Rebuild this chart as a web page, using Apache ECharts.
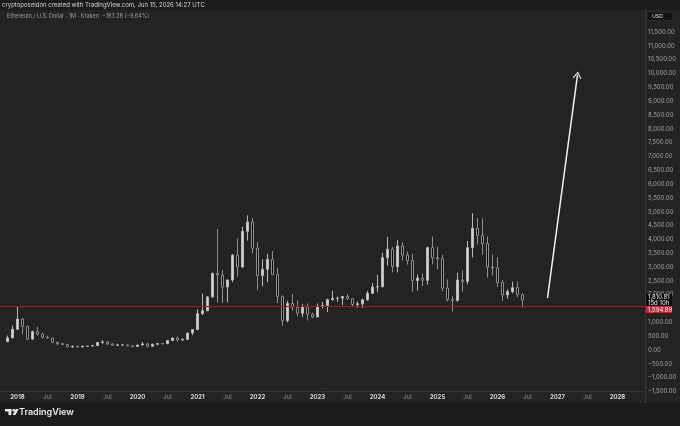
<!DOCTYPE html>
<html><head><meta charset="utf-8">
<script src="https://cdn.jsdelivr.net/npm/echarts@6/dist/echarts.min.js"></script>
<style>html,body{margin:0;padding:0;background:#1b1b1b;}#c{width:680px;height:426px;}</style>
</head><body><div id="c"></div>
<script>
// Monthly candles, each item [open, close, low, high]
const ohlc2017 = [[300,440,290,520],[440,750,420,880]]; // Nov, Dec
const ohlc2018 = [[750,1118,740,1560],[1118,855,570,1160],[855,395,370,880],[395,670,360,700],[670,577,520,840],[577,455,410,620],[455,434,420,515],[434,283,250,440],[283,232,167,300],[232,197,190,232],[197,113,100,222],[113,133,82,160]];
const ohlc2019 = [[133,107,100,160],[107,136,102,165],[136,141,126,145],[141,162,140,184],[162,268,159,285],[268,290,229,365],[290,218,190,317],[218,172,163,239],[172,180,153,224],[180,183,154,198],[183,152,140,193],[152,130,117,155]];
const ohlc2020 = [[130,180,126,185],[180,217,178,288],[217,133,90,253],[133,207,130,227],[207,231,175,245],[231,226,215,255],[226,345,225,348],[345,434,340,445],[434,360,308,488],[360,386,335,420],[386,615,372,622],[615,738,535,760]];
const ohlc2021 = [[738,1315,714,1475],[1315,1417,1270,2040],[1417,1919,1410,1950],[1919,2773,1900,2800],[2773,2710,1720,4380],[2710,2275,1700,2890],[2275,2530,1720,2550],[2530,3430,2450,3470],[3430,3000,2650,4030],[3000,4290,2970,4460],[4290,4630,3960,4870],[4630,3680,3500,4780]];
const ohlc2022 = [[3680,2690,2160,3900],[2690,2920,2300,3280],[2920,3280,2450,3480],[3280,2730,2700,3580],[2730,1940,1700,2960],[1940,1070,880,1970],[1070,1680,1000,1780],[1680,1550,1420,2030],[1550,1330,1220,1790],[1330,1570,1190,1660],[1570,1295,1070,1680],[1295,1197,1150,1350]];
const ohlc2023 = [[1197,1585,1190,1680],[1585,1605,1500,1740],[1605,1820,1370,1860],[1820,1870,1780,2140],[1870,1875,1740,1930],[1875,1935,1620,1940],[1935,1855,1820,2030],[1855,1645,1550,1870],[1645,1670,1530,1750],[1670,1815,1520,1860],[1815,2050,1780,2140],[2050,2280,2040,2420]];
const ohlc2024 = [[2280,2285,2100,2720],[2285,3340,2270,3520],[3340,3640,3050,4090],[3640,3015,2810,3730],[3015,3760,2810,3980],[3760,3435,3240,3890],[3435,3230,3090,3560],[3230,2515,2110,3480],[2515,2600,2150,2730],[2600,2520,2310,2770],[2520,3700,2360,3740],[3700,3335,3100,4100]];
const ohlc2025 = [[3335,3300,2920,3740],[3300,2240,2120,3440],[2240,1820,1760,2550],[1820,1795,1385,1950],[1795,2530,1750,2790],[2530,2485,2110,2880],[2485,3700,2370,3940],[3700,4400,3350,4950],[4400,4145,3820,4770],[4145,3850,3440,4760],[3850,3000,2620,4100],[3000,2970,2700,3450]];
const ohlc2026 = [[2970,2440,2280,3360],[2440,1990,1770,2530],[1990,2110,1850,2200],[2110,2255,2050,2470],[2255,2004.09,1910,2470],[2004.09,1810.81,1530,2050]];

const lastPrice = 1810.81;
const countdown = '15d 10h';
const levelPrice = 1594.89;
const arrowFrom = ['2026-11', 1880];
const arrowTo = ['2027-05', 9950];

const yTicksHidden = [1500];
const yLabelMax = 11500;

// months Oct 2017 .. Jun 2028
const months = [];
for (let y = 2017; y <= 2028; y++) {
  for (let m = 1; m <= 12; m++) {
    if (y === 2017 && m < 10) continue;
    if (y === 2028 && m > 6) continue;
    months.push(y + '-' + String(m).padStart(2, '0'));
  }
}
const candles = ['-'].concat(ohlc2017, ohlc2018, ohlc2019, ohlc2020, ohlc2021, ohlc2022, ohlc2023, ohlc2024, ohlc2025, ohlc2026);
while (candles.length < months.length) candles.push('-');

function fmt(v) {
  const s = Math.abs(v).toLocaleString('en-US', {minimumFractionDigits: 2, maximumFractionDigits: 2});
  return (v < 0 ? '\u2212' : '') + s;
}

const chart = echarts.init(document.getElementById('c'), null, {renderer: 'canvas'});
chart.setOption({
  backgroundColor: '#1b1b1b',
  animation: false,
  textStyle: {fontFamily: 'Inter, "Noto Sans", sans-serif'},
  title: [
    {text: 'cryptoposeidon created with TradingView.com, Jun 15, 2026 14:27 UTC', left: 2, top: 2, padding: 0,
     textStyle: {fontSize: 6, color: '#d6d6d6', fontWeight: 'normal'}},
    {text: 'Ethereum / U.S. Dollar \u00b7 1M \u00b7 Kraken  \u2212193.28 (\u22129.64%)', left: 7, top: 13, padding: 0,
     textStyle: {fontSize: 5.5, color: '#9a9a9a', fontWeight: 'normal'}}
  ],
  graphic: [
    {type: 'rect', z: -10, silent: true, shape: {x: 0, y: 10, width: 680, height: 393}, style: {fill: '#232323'}},
    {type: 'line', z: -9, silent: true, shape: {x1: 645.5, y1: 10, x2: 645.5, y2: 403}, style: {stroke: '#363636', lineWidth: 1}},
    {type: 'group', left: 647, top: 12, children: [
      {type: 'rect', shape: {x: 0, y: 0, width: 25, height: 8, r: 1}, style: {fill: '#121212', stroke: '#3a3a3a', lineWidth: 0.5}},
      {type: 'text', x: 5, y: 4, style: {text: 'USD', fill: '#e0e0e0', fontSize: 5, verticalAlign: 'middle', font: '5px Inter, sans-serif'}}
    ]},
    {type: 'group', left: 5, top: 409, children: [
      {type: 'rect', shape: {x: 0, y: 0, width: 6.5, height: 2.5}, style: {fill: '#ececec'}},
      {type: 'rect', shape: {x: 3.5, y: 0, width: 2.8, height: 6}, style: {fill: '#ececec'}},
      {type: 'circle', shape: {cx: 8.8, cy: 1.3, r: 1.3}, style: {fill: '#ececec'}},
      {type: 'polygon', shape: {points: [[10.8, 0], [13.6, 0], [10.5, 6], [7.7, 6]]}, style: {fill: '#ececec'}}
    ]},
    {type: 'text', left: 19, top: 408, style: {text: 'TradingView', fill: '#ececec', font: '600 9px Inter, "Noto Sans", sans-serif'}}
  ],
  grid: {left: 0, right: 35, top: 9.88, bottom: 34.52, containLabel: false},
  xAxis: {
    type: 'category', data: months, boundaryGap: true,
    axisLine: {show: true, onZero: false, lineStyle: {color: '#363636'}},
    axisTick: {show: false},
    splitLine: {show: false},
    axisLabel: {
      margin: 3,
      interval: function (i, v) { return v.endsWith('-01') || v.endsWith('-07'); },
      formatter: function (v) { return v.endsWith('-01') ? '{y|' + v.slice(0, 4) + '}' : '{m|Jul}'; },
      rich: {
        y: {color: '#d8d8d8', fontSize: 6, fontWeight: 'bold'},
        m: {color: '#8c8c8c', fontSize: 6}
      }
    }
  },
  yAxis: {
    type: 'value', position: 'right', min: -1500, max: 12300, interval: 500,
    axisLine: {show: false},
    axisTick: {show: false},
    splitLine: {show: false},
    axisLabel: {
      margin: 3, color: '#a3a3a3', fontSize: 6, showMaxLabel: false,
      formatter: function (v) { return (v > yLabelMax || yTicksHidden.indexOf(v) >= 0) ? '' : fmt(v); }
    }
  },
  series: [{
    type: 'candlestick',
    data: candles,
    barWidth: 3,
    itemStyle: {color: '#d2d2d2', color0: '#0c0c0c', borderColor: '#b8b8b8', borderColor0: '#8e8e8e', borderWidth: 1},
    markLine: {
      silent: true, animation: false, symbol: ['none', 'none'],
      data: [
        {yAxis: levelPrice, lineStyle: {color: '#7e2a31', width: 1, type: 'solid'},
         label: {show: true, position: 'end', distance: 1,
           formatter: '{s|}\n{r|' + fmt(levelPrice) + '}',
           rich: {s: {height: 7}, r: {backgroundColor: '#b8303d', color: '#ffe0e3', fontSize: 6, padding: [1, 2, 0, 2], width: 22}}}},
        {yAxis: lastPrice, lineStyle: {color: 'rgba(0,0,0,0)', width: 0},
         label: {show: true, position: 'end', distance: 1,
           formatter: fmt(lastPrice) + '\n' + countdown,
           backgroundColor: '#0a0a0a', color: '#f0f0f0', fontSize: 6, lineHeight: 6, padding: [0, 2, 0, 2], width: 22}},
        [
          {coord: arrowFrom, symbol: 'none'},
          {coord: arrowTo, symbol: 'path://M0,10 L5,0 L10,10 L8.6,10 L5,2.8 L1.4,10 Z', symbolSize: [9, 7],
           lineStyle: {color: '#f2f2f2', width: 1.5, type: 'solid'}, label: {show: false}}
        ]
      ],
      lineStyle: {color: '#f2f2f2', width: 1.5, type: 'solid'}
    }
  }]
});
</script>
</body></html>
